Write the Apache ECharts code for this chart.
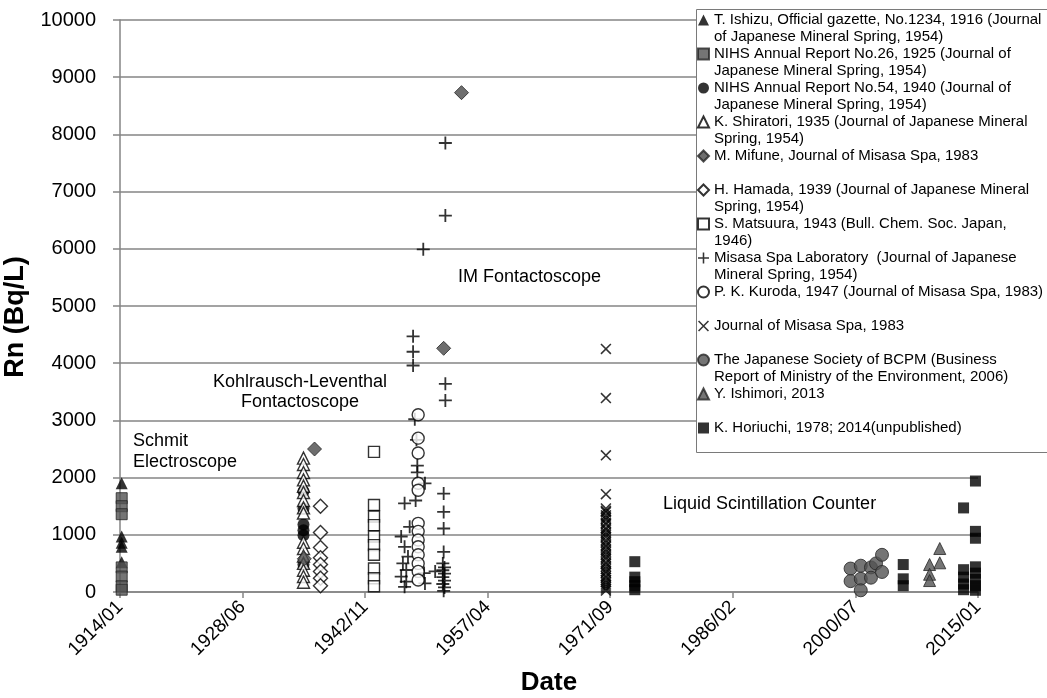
<!DOCTYPE html>
<html>
<head>
<meta charset="utf-8">
<script src="https://cdn.jsdelivr.net/npm/echarts@6/dist/echarts.min.js"></script>
<style>
  html, body { margin: 0; padding: 0; background: #fff; }
  #chart { width: 1047px; height: 698px; }
</style>
</head>
<body>
<div id="chart"></div>
<script>
// Radon (Rn) concentration in Misasa hot spring waters, by measurement date.
// x values are decimal years, y values are Bq/L.

const xTickValues = [1914, 1928.43, 1942.86, 1957.29, 1971.71, 1986.14, 2000.57, 2015];
const xTickLabels = ['1914/01', '1928/06', '1942/11', '1957/04', '1971/09', '1986/02', '2000/07', '2015/01'];

const ishizu = [[1914.2, 1900], [1914.2, 970], [1914.2, 860], [1914.2, 790], [1914.2, 520]];
const nihs26 = [[1914.2, 1640], [1914.2, 1500], [1914.2, 1360], [1914.2, 430], [1914.2, 270], [1914.2, 100], [1914.2, 40]];
const nihs54 = [[1935.6, 1760], [1935.6, 1460], [1935.6, 1180], [1935.6, 1080], [1935.6, 990], [1935.6, 480]];
const shiratori = [[1935.6, 2340], [1935.6, 2230], [1935.6, 2090], [1935.6, 1960], [1935.6, 1850], [1935.6, 1740],
  [1935.6, 1600], [1935.6, 1470], [1935.6, 1380], [1935.6, 870], [1935.6, 760], [1935.6, 630], [1935.6, 500],
  [1935.6, 380], [1935.6, 270], [1935.6, 170]];
const mifune = [[1935.7, 580], [1936.9, 2500], [1952.1, 4260], [1954.2, 8730]];
const hamada = [[1937.6, 1500], [1937.6, 1040], [1937.6, 780], [1937.6, 600], [1937.6, 480], [1937.6, 360], [1937.6, 240], [1937.6, 110]];
const matsuura = [[1943.9, 2450], [1943.9, 1520], [1943.9, 1320], [1943.9, 1170], [1943.9, 970], [1943.9, 820],
  [1943.9, 650], [1943.9, 410], [1943.9, 240], [1943.9, 100]];
const misasaLab = [
  [1947.5, 1550], [1948.1, 1140], [1947.1, 970], [1947.5, 790], [1947.9, 620], [1947.3, 500], [1947.7, 385],
  [1947.1, 270], [1947.7, 180], [1947.5, 90],
  [1948.5, 4470], [1948.5, 4200], [1948.5, 3960], [1949.7, 5990], [1948.7, 3020], [1948.9, 2660], [1949.0, 2210],
  [1949.0, 2090], [1949.9, 1900], [1948.8, 1600], [1949.8, 330], [1949.9, 150], [1951.1, 360],
  [1952.3, 7850], [1952.3, 6580], [1952.3, 3640], [1952.3, 3350], [1952.1, 1720], [1952.1, 1400], [1952.1, 1110],
  [1952.1, 700], [1952.0, 500], [1952.2, 430], [1952.0, 380], [1952.2, 320], [1952.0, 260], [1952.2, 200],
  [1952.0, 140], [1952.2, 80], [1952.1, 20]
];
const kuroda = [[1949.1, 3100], [1949.1, 2690], [1949.1, 2430], [1949.1, 1900], [1949.1, 1780], [1949.1, 1200],
  [1949.1, 1060], [1949.1, 910], [1949.1, 790], [1949.1, 650], [1949.1, 500], [1949.1, 360], [1949.1, 210]];
const misasaJournal = [4250, 3390, 2390, 1710, 1460, 1420, 1395, 1340, 1300, 1265, 1210, 1180, 1120, 1090, 1040,
  1000, 960, 905, 870, 820, 790, 740, 700, 655, 610, 575, 520, 490, 445, 400, 360, 330, 280, 250, 205, 170, 130,
  95, 60, 25].map(v => [1971.2, v]);
const bcpm = [[2000.0, 410], [2000.0, 190], [2001.2, 460], [2001.2, 230], [2001.2, 30], [2002.4, 430], [2002.4, 250],
  [2003.0, 500], [2003.7, 650], [2003.7, 350]];
const ishimori = [[2010.5, 760], [2010.5, 510], [2009.3, 480], [2009.3, 310], [2009.3, 200]];
const horiuchi = [[1974.6, 530], [1974.6, 260], [1974.6, 180], [1974.6, 110], [1974.6, 40],
  [2006.2, 480], [2006.2, 230], [2006.2, 110],
  [2013.3, 1470], [2013.3, 390], [2013.3, 260], [2013.3, 140], [2013.3, 40],
  [2014.7, 1940], [2014.7, 1060], [2014.7, 940], [2014.7, 440], [2014.7, 330], [2014.7, 220], [2014.7, 110], [2014.7, 30]];

const sourceNames = [
  ['T. Ishizu, Official gazette, No.1234, 1916 (Journal', 'of Japanese Mineral Spring, 1954)'],
  ['NIHS Annual Report No.26, 1925 (Journal of', 'Japanese Mineral Spring, 1954)'],
  ['NIHS Annual Report No.54, 1940 (Journal of', 'Japanese Mineral Spring, 1954)'],
  ['K. Shiratori, 1935 (Journal of Japanese Mineral', 'Spring, 1954)'],
  ['M. Mifune, Journal of Misasa Spa, 1983', ''],
  ['H. Hamada, 1939 (Journal of Japanese Mineral', 'Spring, 1954)'],
  ['S. Matsuura, 1943 (Bull. Chem. Soc. Japan,', '1946)'],
  ['Misasa Spa Laboratory  (Journal of Japanese', 'Mineral Spring, 1954)'],
  ['P. K. Kuroda, 1947 (Journal of Misasa Spa, 1983)', ''],
  ['Journal of Misasa Spa, 1983', ''],
  ['The Japanese Society of BCPM (Business', 'Report of Ministry of the Environment, 2006)'],
  ['Y. Ishimori, 2013', ''],
  ['K. Horiuchi, 1978; 2014(unpublished)', '']
];

const PLUS = 'path://M4.3,0H5.7V10H4.3Z M0,4.3H10V5.7H0Z';
const CROSS = 'path://M0,1L1,0L10,9L9,10Z M9,0L10,1L1,10L0,9Z';

const solid = c => ({ color: c, borderColor: c === '#000' ? '#000' : '#262626', borderWidth: c === '#000' ? 0 : 1 });
const hollow = { color: '#fff', borderColor: '#000', borderWidth: 1.4 };

const seriesSpecs = [
  { data: ishizu, symbol: 'triangle', size: 12, style: solid('#000') },
  { data: nihs26, symbol: 'rect', size: 11, style: solid('#525252') },
  { data: nihs54, symbol: 'circle', size: 12, style: solid('#000') },
  { data: shiratori, symbol: 'triangle', size: 12, style: hollow },
  { data: mifune, symbol: 'diamond', size: 14, style: solid('#4a4a4a') },
  { data: hamada, symbol: 'diamond', size: 14, style: hollow },
  { data: matsuura, symbol: 'rect', size: 11, style: hollow },
  { data: misasaLab, symbol: PLUS, size: 13, style: { color: '#000' } },
  { data: kuroda, symbol: 'circle', size: 12, style: hollow },
  { data: misasaJournal, symbol: CROSS, size: 11, style: { color: '#000' } },
  { data: bcpm, symbol: 'circle', size: 13, style: solid('#525252') },
  { data: ishimori, symbol: 'triangle', size: 12, style: solid('#525252') },
  { data: horiuchi, symbol: 'rect', size: 11, style: solid('#000') }
];

const names = sourceNames.map(n => n[0] + (n[1] ? '\n' + n[1] : ''));

const chart = echarts.init(document.getElementById('chart'));
const FONT = 'Liberation Sans, Arial, sans-serif';

chart.setOption({
  animation: false,
  backgroundColor: '#fff',
  grid: { left: 120, right: 69, top: 20, bottom: 106, outerBoundsMode: 'none' },
  xAxis: {
    type: 'value',
    min: 1914,
    max: 2015,
    name: 'Date',
    nameLocation: 'middle',
    nameGap: 78,
    nameTextStyle: { fontFamily: FONT, fontSize: 26, fontWeight: 'bold', color: '#000' },
    axisLine: { lineStyle: { color: '#858585', width: 1.5 } },
    axisTick: { show: true, customValues: xTickValues, length: 6, lineStyle: { color: '#858585', width: 1.5 } },
    axisLabel: {
      customValues: xTickValues,
      rotate: 45,
      margin: 12,
      fontFamily: FONT,
      fontSize: 19,
      color: '#000',
      formatter: v => {
        const i = xTickValues.findIndex(t => Math.abs(t - v) < 0.01);
        return i >= 0 ? xTickLabels[i] : '';
      }
    },
    splitLine: { show: false }
  },
  yAxis: {
    type: 'value',
    min: 0,
    max: 10000,
    interval: 1000,
    name: 'Rn (Bq/L)',
    nameLocation: 'middle',
    nameGap: 70,
    nameTextStyle: { fontFamily: FONT, fontSize: 27, fontWeight: 'bold', color: '#000', padding: [0, 22, 0, 0] },
    axisLine: { show: true, lineStyle: { color: '#858585', width: 1.5 } },
    axisTick: { show: true, length: 7, lineStyle: { color: '#858585', width: 1.5 } },
    axisLabel: { fontFamily: FONT, fontSize: 20, color: '#000', margin: 24, formatter: v => String(v) },
    splitLine: { lineStyle: { color: '#858585', width: 1.5 } }
  },
  legend: {
    orient: 'vertical',
    left: 697,
    top: -5.5,
    padding: 0,
    itemGap: -17,
    itemWidth: 11,
    itemHeight: 11,
    z: 11,
    selectedMode: false,
    data: names,
    formatter: name => {
      const i = names.indexOf(name);
      return '\n' + sourceNames[i][0] + '\n' + (sourceNames[i][1] || ' ');
    },
    textStyle: { fontFamily: FONT, fontSize: 15, lineHeight: 17, color: '#000' }
  },
  series: seriesSpecs.map((s, i) => ({
    type: 'scatter',
    name: names[i],
    data: s.data,
    symbol: s.symbol,
    symbolSize: s.size,
    itemStyle: s.style,
    emphasis: { disabled: true }
  })),
  graphic: [
    { type: 'rect', z: 10, shape: { x: 696.5, y: 9.5, width: 400, height: 443 },
      style: { fill: '#fff', stroke: '#7a7a7a', lineWidth: 1 } },
    { type: 'text', z: 3, x: 133, y: 431, style: { text: 'Schmit\nElectroscope', fontFamily: FONT, fontSize: 18, lineHeight: 21, fill: '#000', align: 'left', verticalAlign: 'top' } },
    { type: 'text', z: 3, x: 300, y: 372, style: { text: 'Kohlrausch-Leventhal\nFontactoscope', fontFamily: FONT, fontSize: 18, lineHeight: 20, fill: '#000', align: 'center', verticalAlign: 'top' } },
    { type: 'text', z: 3, x: 458, y: 268, style: { text: 'IM Fontactoscope', fontFamily: FONT, fontSize: 18, fill: '#000', align: 'left', verticalAlign: 'top' } },
    { type: 'text', z: 3, x: 663, y: 495, style: { text: 'Liquid Scintillation Counter', fontFamily: FONT, fontSize: 18, fill: '#000', align: 'left', verticalAlign: 'top' } }
  ]
});
</script>
</body>
</html>
